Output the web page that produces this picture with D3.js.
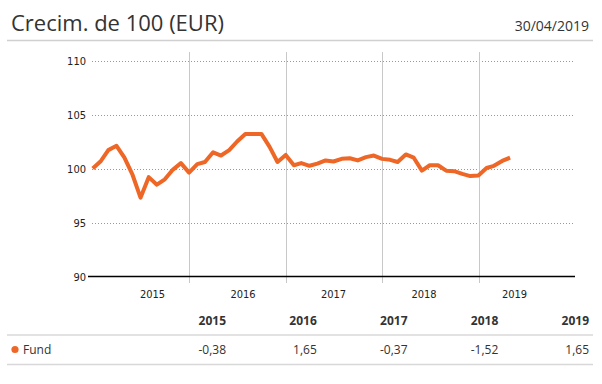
<!DOCTYPE html>
<html lang="es">
<head>
<meta charset="UTF-8">
<title>Crecim. de 100 (EUR)</title>
<script src="https://d3js.org/d3.v7.min.js"></script>
<style>
    body { margin: 0; background: #fff; font-family: "Open Sans", Arial, sans-serif; }
    .title { font-size: 22px; fill: #333; }
    .date { font-size: 14px; fill: #333; }
    .axis text { font-family: "DejaVu Sans Condensed", "DejaVu Sans", sans-serif; font-stretch: condensed; font-size: 11px; fill: #222; }
    .hdr { font-size: 12px; font-weight: bold; fill: #333; text-anchor: end; }
    .cell { font-size: 12px; fill: #333; }
</style>
</head>
<body>
<svg width="602" height="384"></svg>
<script>
// data
const startValue = 100;
const values = [
    100.0, 100.7, 101.7, 102.1, 101.0, 99.4, 97.3, 99.2, 98.5, 99.0, 99.9, 100.5,
    99.62, 100.4, 100.6, 101.5, 101.2, 101.7, 102.5, 103.2, 103.2, 103.2, 102.0, 100.6,
    101.26, 100.3, 100.5, 100.25, 100.45, 100.75, 100.65, 100.9, 100.95, 100.75, 101.05, 101.2,
    100.89, 100.8, 100.6, 101.3, 101.0, 99.8, 100.3, 100.3, 99.8, 99.75, 99.5, 99.3,
    99.36, 100.05, 100.25, 100.7, 101.0
];
const years = ["2015", "2016", "2017", "2018", "2019"];
const yearlyReturns = ["-0,38", "1,65", "-0,37", "-1,52", "1,65"];
const yTicks = [90, 95, 100, 105, 110];
const seriesName = "Fund";
const asOf = "30/04/2019";

// month-end dates Dec 2014 .. Apr 2019
const dates = d3.utcMonth.range(new Date(Date.UTC(2015, 0, 1)), new Date(Date.UTC(2019, 4, 2)))
    .map(d => d3.utcDay.offset(d, -1));
const series = dates.map((d, i) => ({date: d, value: values[i]}));

const orange = "#ee6726";
const svg = d3.select("svg");

// header
svg.append("text").attr("class", "title").attr("x", 11).attr("y", 31).text("Crecim. de 100 (EUR)");
svg.append("text").attr("class", "date").attr("x", 589).attr("y", 31).attr("text-anchor", "end").text(asOf);
svg.append("line").attr("x1", 7).attr("x2", 593).attr("y1", 40.5).attr("y2", 40.5)
    .attr("stroke", "#d0d0d0").attr("stroke-width", 1.5);

// scales
const plot = {left: 88, right: 575, top: 60.5, bottom: 276.5};
const x = d3.scaleUtc()
    .domain([new Date(Date.UTC(2014, 11, 13)), new Date(Date.UTC(2020, 0, 1))])
    .range([plot.left, plot.right]);
const y = d3.scaleLinear().domain([90, 110]).range([plot.bottom, plot.top]);
const xLabel = d3.scalePoint().domain(years).range([plot.left + 64, plot.left + 426]);

// horizontal dotted gridlines
svg.append("g").selectAll("line")
    .data(yTicks.filter(t => t !== 90))
    .join("line")
    .attr("x1", plot.left + 4).attr("x2", plot.right - 2)
    .attr("y1", d => Math.round(y(d)) + 0.5).attr("y2", d => Math.round(y(d)) + 0.5)
    .attr("stroke", "#999").attr("stroke-dasharray", "1,2");

// vertical year separators
const yearEnds = [2016, 2017, 2018, 2019].map(yr => new Date(Date.UTC(yr, 0, 1)));
svg.append("g").selectAll("line")
    .data(yearEnds)
    .join("line")
    .attr("x1", d => Math.round(x(d)) + 0.5).attr("x2", d => Math.round(x(d)) + 0.5)
    .attr("y1", 52).attr("y2", 283)
    .attr("stroke", "#c8c8c8");

// y axis
svg.append("g").attr("class", "axis")
    .attr("transform", `translate(${plot.left},0)`)
    .call(d3.axisLeft(y).tickValues(yTicks).tickSize(0).tickPadding(2))
    .call(g => g.select(".domain").remove());

// x labels
svg.append("g").attr("class", "axis")
    .attr("transform", `translate(0,${plot.bottom})`)
    .call(d3.axisBottom(xLabel).tickSize(0).tickPadding(14))
    .call(g => g.select(".domain").remove());

// baseline
svg.append("line").attr("x1", plot.left).attr("x2", plot.right)
    .attr("y1", plot.bottom).attr("y2", plot.bottom)
    .attr("stroke", "#000").attr("stroke-width", 1.5);

// line
svg.append("path")
    .datum(series)
    .attr("fill", "none")
    .attr("stroke", orange)
    .attr("stroke-width", 4)
    .attr("stroke-linejoin", "round")
    .attr("d", d3.line().x(d => x(d.date)).y(d => y(d.value)));

// table
const col = d3.scalePoint().domain(years).range([226, 589]);
svg.append("g").selectAll("text")
    .data(years)
    .join("text")
    .attr("class", "hdr")
    .attr("x", d => col(d)).attr("y", 325)
    .text(d => d);
svg.append("line").attr("x1", 7).attr("x2", 593).attr("y1", 335).attr("y2", 335)
    .attr("stroke", "#d8d8d8").attr("stroke-width", 1.5);
svg.append("circle").attr("cx", 15).attr("cy", 349.5).attr("r", 3.6).attr("fill", orange);
svg.append("text").attr("class", "cell").attr("x", 23).attr("y", 353.5).text(seriesName);
svg.append("g").selectAll("text")
    .data(yearlyReturns)
    .join("text")
    .attr("class", "cell")
    .attr("text-anchor", "end")
    .attr("x", (d, i) => col(years[i])).attr("y", 353.5)
    .text(d => d);
svg.append("line").attr("x1", 7).attr("x2", 593).attr("y1", 364.5).attr("y2", 364.5)
    .attr("stroke", "#d8d8d8").attr("stroke-width", 1.5);
</script>
</body>
</html>
